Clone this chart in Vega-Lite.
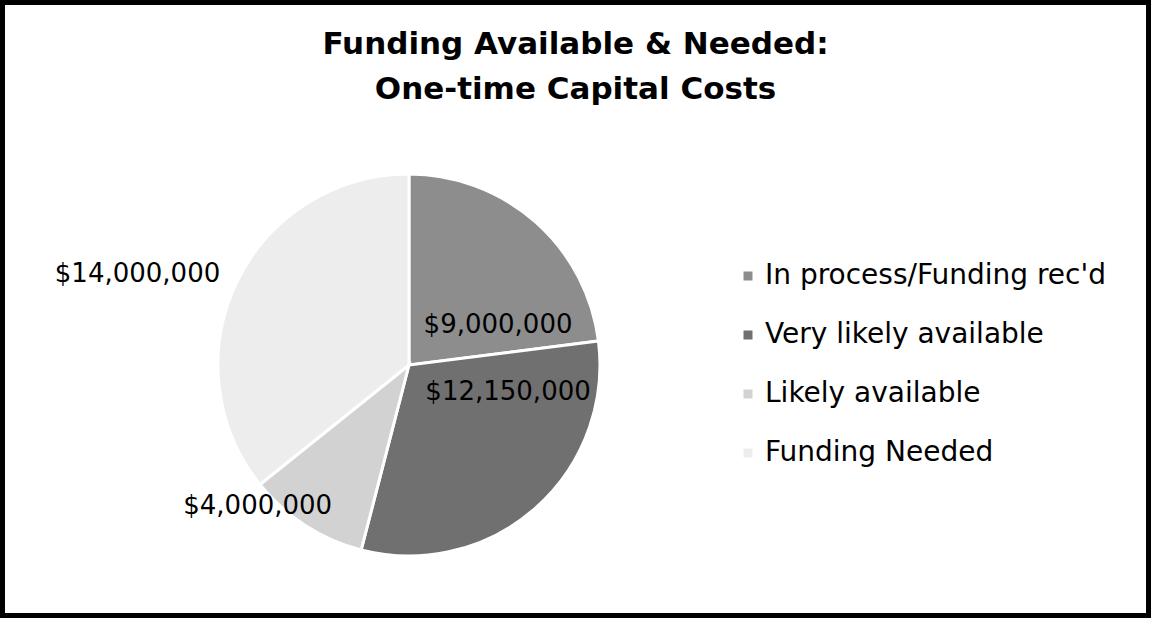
{
  "$schema": "https://vega.github.io/schema/vega-lite/v6.json",
  "width": 1151,
  "height": 618,
  "autosize": "none",
  "padding": 0,
  "background": "white",
  "view": {"stroke": "black", "strokeWidth": 10},
  "config": {
    "view": {"stroke": "black", "strokeWidth": 10},
    "font": "DejaVu Sans"
  },
  "title": {
    "text": ["Funding Available & Needed:", "One-time Capital Costs"],
    "fontSize": 31,
    "fontWeight": "bold",
    "font": "DejaVu Sans",
    "color": "black",
    "lineHeight": 45,
    "anchor": "middle",
    "frame": "group",
    "offset": -106
  },
  "data": {
    "values": [
      {"category": "In process/Funding rec'd", "amount": 9000000, "label": "$9,000,000", "order": 1},
      {"category": "Very likely available", "amount": 12150000, "label": "$12,150,000", "order": 2},
      {"category": "Likely available", "amount": 4000000, "label": "$4,000,000", "order": 3},
      {"category": "Funding Needed", "amount": 14000000, "label": "$14,000,000", "order": 4}
    ]
  },
  "encoding": {
    "theta": {"field": "amount", "type": "quantitative", "stack": true},
    "order": {"field": "order", "type": "quantitative"}
  },
  "layer": [
    {
      "mark": {"type": "arc", "radius": 191, "stroke": "white", "strokeWidth": 3, "x": {"expr": "width*0.3553"}, "y": {"expr": "height*0.5906"}},
      "encoding": {
        "color": {
          "field": "category",
          "type": "nominal",
          "scale": {
            "domain": ["In process/Funding rec'd", "Very likely available", "Likely available", "Funding Needed"],
            "range": ["#8d8d8d", "#707070", "#d2d2d2", "#ededed"]
          },
          "legend": {
            "orient": "none",
            "legendX": 734,
            "legendY": 262,
            "title": null,
            "symbolType": "square",
            "symbolSize": 81,
            "symbolStrokeWidth": 0,
            "labelFontSize": 28,
            "labelFont": "DejaVu Sans",
            "labelColor": "black",
            "rowPadding": 31,
            "labelOffset": 3,
            "padding": 0,
            "labelLimit": 500
          }
        }
      }
    },
    {
      "mark": {"type": "text", "radius": 100, "dx": 23, "dy": 35, "fontSize": 26, "font": "DejaVu Sans", "color": "black", "align": "center", "baseline": "middle", "x": {"expr": "width*0.3553"}, "y": {"expr": "height*0.5906"}},
      "encoding": {"text": {"condition": {"test": "datum.order === 1", "field": "label"}, "value": ""}}
    },
    {
      "mark": {"type": "text", "radius": 100, "dx": 33, "dy": -48, "fontSize": 26, "font": "DejaVu Sans", "color": "black", "align": "center", "baseline": "middle", "x": {"expr": "width*0.3553"}, "y": {"expr": "height*0.5906"}},
      "encoding": {"text": {"condition": {"test": "datum.order === 2", "field": "label"}, "value": ""}}
    },
    {
      "mark": {"type": "text", "radius": 170, "dx": -59, "dy": -2, "fontSize": 26, "font": "DejaVu Sans", "color": "black", "align": "center", "baseline": "middle", "x": {"expr": "width*0.3553"}, "y": {"expr": "height*0.5906"}},
      "encoding": {"text": {"condition": {"test": "datum.order === 3", "field": "label"}, "value": ""}}
    },
    {
      "mark": {"type": "text", "radius": 280, "dx": -19, "dy": 30, "fontSize": 26, "font": "DejaVu Sans", "color": "black", "align": "center", "baseline": "middle", "x": {"expr": "width*0.3553"}, "y": {"expr": "height*0.5906"}},
      "encoding": {"text": {"condition": {"test": "datum.order === 4", "field": "label"}, "value": ""}}
    }
  ]
}
